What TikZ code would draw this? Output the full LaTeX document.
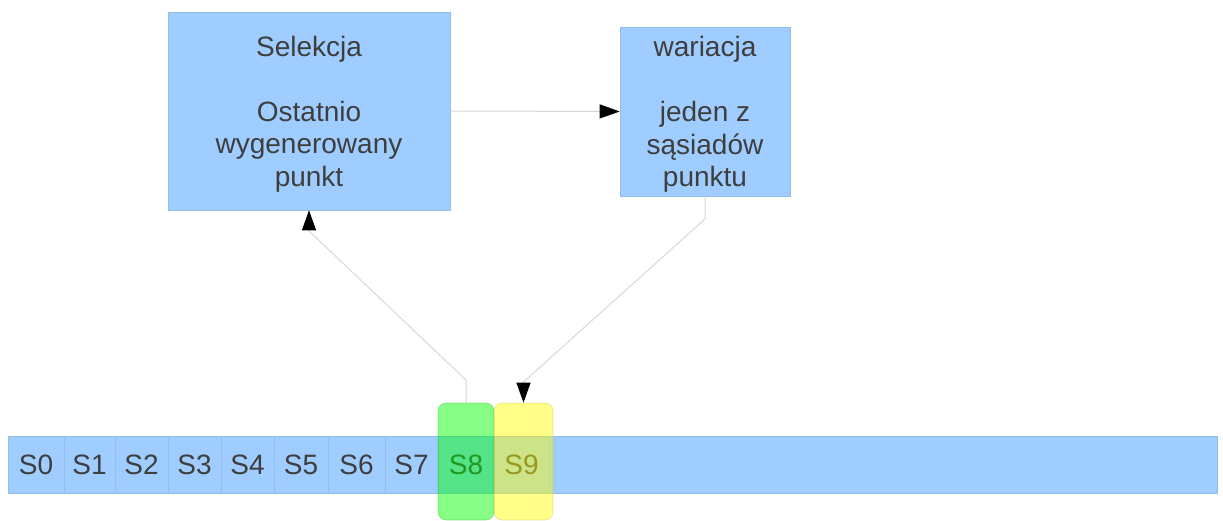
\documentclass[tikz,border=0pt]{standalone}
\usepackage{fontspec}
\setmainfont{Liberation Sans}
\usetikzlibrary{arrows.meta}
\definecolor{boxblue}{RGB}{159,205,255}
\definecolor{boxedge}{RGB}{145,190,238}
\definecolor{txt}{RGB}{62,62,62}
\definecolor{connc}{RGB}{215,215,215}
\definecolor{gfill}{RGB}{0,255,0}
\definecolor{yfill}{RGB}{255,255,0}
\tikzset{
  bigbox/.style={draw=boxedge, line width=0.6pt, fill=boxblue, inner sep=0pt},
  boxtext/.style={text=txt, align=center, font=\fontsize{28}{32.5}\selectfont, inner sep=0pt},
  cellfill/.style={draw=boxedge, line width=0.8pt, fill=boxblue},
  celltext/.style={text=txt, font=\fontsize{28}{32.5}\selectfont, inner sep=0pt},
  conn/.style={draw=connc, line width=1pt, -{Triangle[length=20pt,width=14pt,color=black]}},
  hl/.style={rounded corners=8pt, fill opacity=0.47, draw opacity=0.3, line width=0.6pt, inner sep=0pt, minimum height=117pt}
}
\begin{document}
\begin{tikzpicture}[x=1pt,y=-1pt]
\useasboundingbox (0,0) rectangle (1223,521);
% top boxes
\node[bigbox, minimum width=282pt, minimum height=198pt] (sel) at (309,111) {};
\node[boxtext] (selt) at (309,114)
  {Selekcja\\\mbox{}\\Ostatnio\\wygenerowany\\punkt};
\node[bigbox, minimum width=170pt, minimum height=169pt] (war) at (705,111.5) {};
\node[boxtext] (wart) at (705,114.5)
  {wariacja\\\mbox{}\\jeden z\\sąsiadów\\punktu};
% bar
\path[cellfill] (8,436) rectangle (1217,493);
\foreach \a/\b/\l [count=\i from 0] in {8/64/S0,64/115/S1,115/168/S2,168/221/S3,221/274/S4,274/328/S5,328/385/S6,385/438/S7,438/494/S8,494/549/S9}{
  \path[cellfill] (\a,436) rectangle (\b,493);
  \node[celltext] (s\i) at ({(\a+\b)/2},465) {\l};
}
% highlights
\node[hl, fill=gfill, draw=green!60!black, minimum width=56pt] (g8) at (466,461.5) {};
\node[hl, fill=yfill, draw=yellow!60!black, minimum width=59pt] (y9) at (523.5,461.5) {};
% connectors
\coordinate (c1) at (466,380);
\coordinate (c2) at (309,231);
\coordinate (c3) at (705,219);
\coordinate (c4) at (523.5,382);
\draw[conn] (sel.east) -- (war.west);
\draw[conn] (g8.north) -- (c1) -- (c2) -- (sel.south);
\draw[conn] (war.south) -- (c3) -- (c4) -- (y9.north);
\end{tikzpicture}
\end{document}
